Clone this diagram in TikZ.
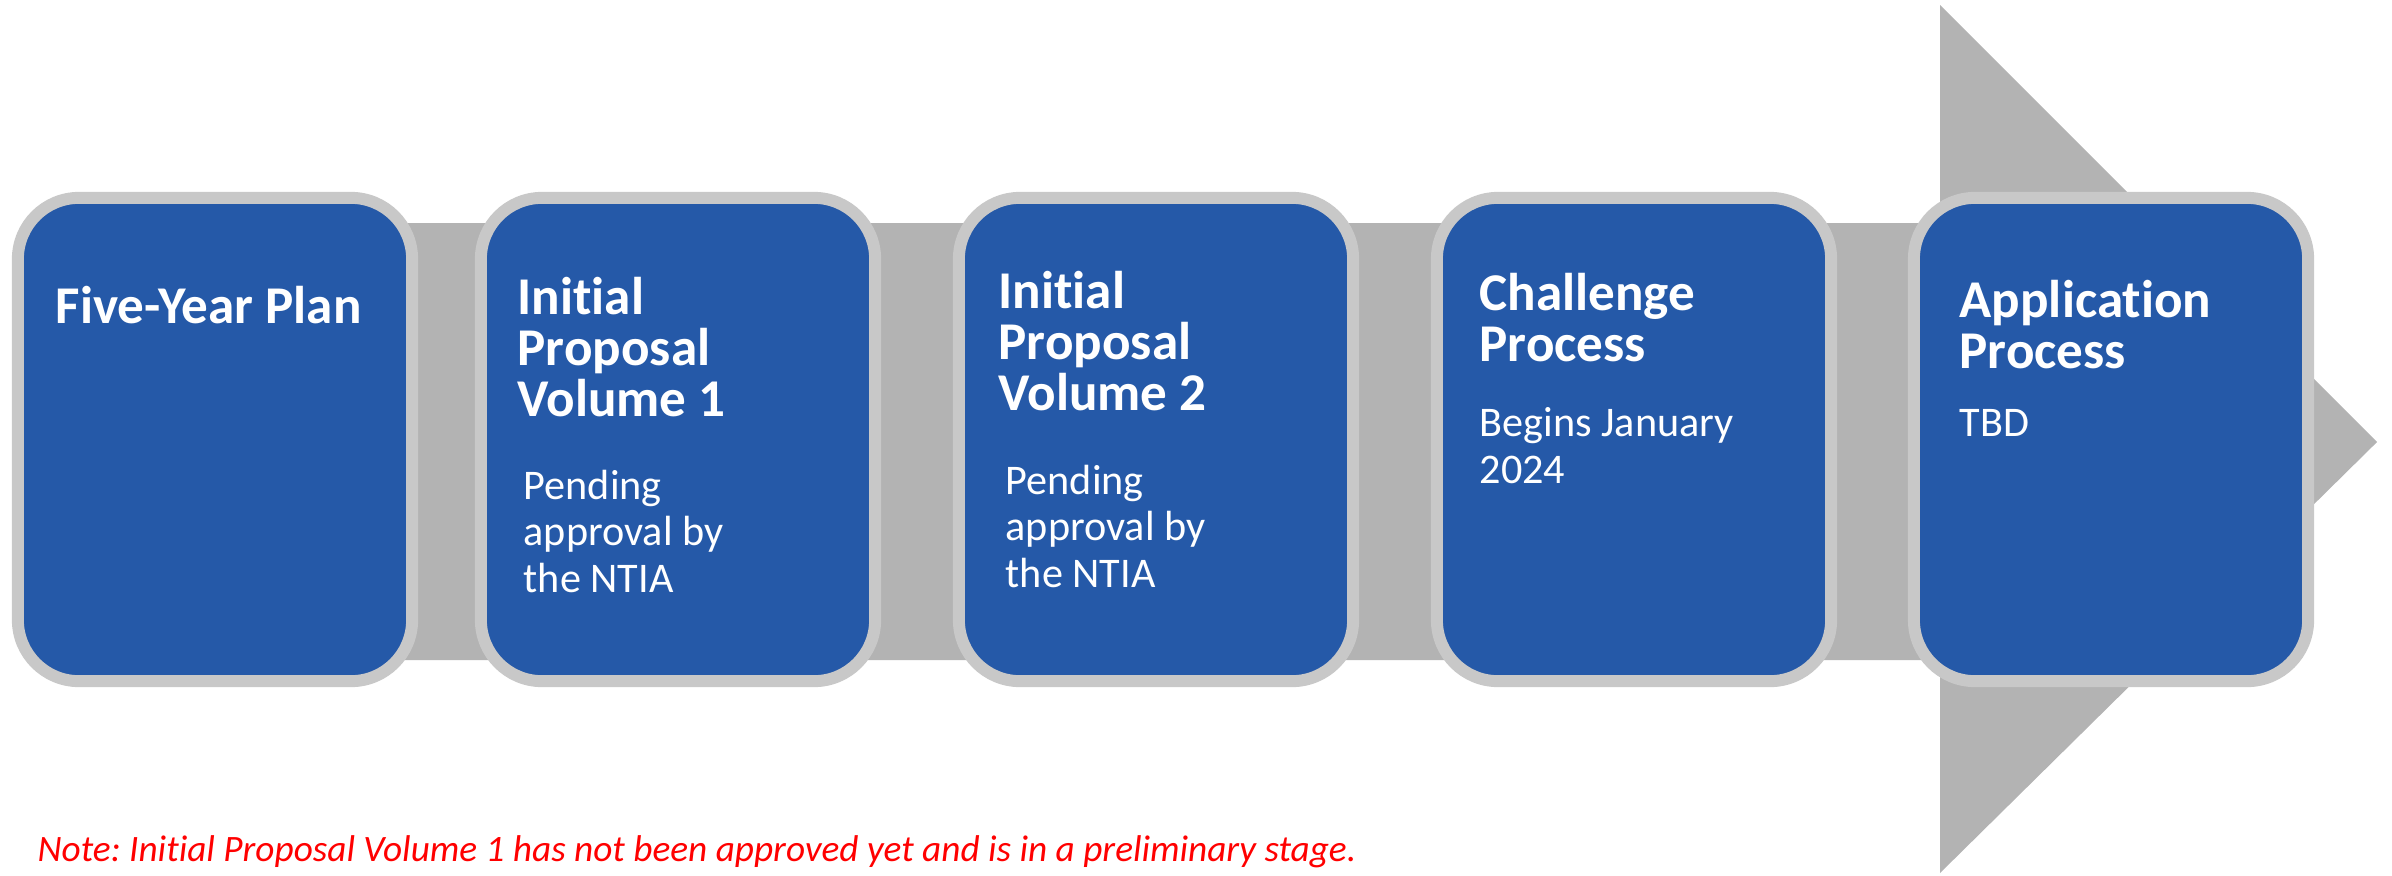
\documentclass[tikz,border=0pt]{standalone}
\usepackage{fontspec}
\setmainfont{Carlito}[Ligatures=NoCommon]
\usetikzlibrary{positioning}
\definecolor{stageblue}{HTML}{2559A8}
\definecolor{rimgray}{HTML}{C8C8C8}
\definecolor{bandgray}{HTML}{B3B3B3}
\frenchspacing

\begin{document}
\begin{tikzpicture}[
    x=0.01cm, y=-0.01cm,
    stage/.style={draw=rimgray, fill=stageblue, line width=3.4pt,
                  rounded corners=0.61cm, minimum width=3.94cm,
                  minimum height=4.83cm, inner sep=0pt},
    % anchor sits on the baseline of the last line
    head/.style={anchor=base west, inner sep=0pt, align=left, text=white,
                 font=\fontsize{15.1}{14.5}\selectfont\bfseries},
    body/.style={anchor=base west, inner sep=0pt, align=left, text=white,
                 font=\fontsize{12}{13.2}\selectfont},
    note/.style={anchor=base west, inner sep=0pt, text=red,
                 font=\fontsize{10.6}{12}\selectfont\itshape},
  ]
  \useasboundingbox (0,0) rectangle (2392,875);

  %% ---- the big arrow behind the stages -------------------------------
  \coordinate (tip) at (2377,442);
  \fill[bandgray] (200,223) -- (1940,223) -- (1940,5) -- (tip)
                  -- (1940,873) -- (1940,660) -- (200,660) -- cycle;

  %% ---- stages --------------------------------------------------------
  \node[stage] (plan) at ( 215,439.5) {};
  \node[stage] (ipa)  at ( 678,439.5) {};
  \node[stage] (ipb)  at (1156,439.5) {};
  \node[stage] (chal) at (1634,439.5) {};
  \node[stage] (app)  at (2111,439.5) {};

  %% ---- stage texts ---------------------------------------------------
  \node[head] (planH) at (  55,323) {Five-Year Plan};
  \node[head] (ipaH)  at ( 517,416) {Initial\\Proposal\\Volume 1};
  \node[body] (ipaB)  at ( 523,592) {Pending\\approval by\\the NTIA};
  \node[head] (ipbH)  at ( 998,410) {Initial\\Proposal\\Volume 2};
  \node[body] (ipbB)  at (1005,587) {Pending\\approval by\\the NTIA};
  \node[head] (chalH) at (1479,361) {Challenge\\Process};
  \node[body] (chalB) at (1479,483) {Begins January\\2024};
  \node[head] (appH)  at (1959,368) {Application\\Process};
  \node[body] (appB)  at (1959,436) {TBD};

  %% ---- footnote ------------------------------------------------------
  \node[note] (note) at (37,861)
    {Note: Initial Proposal Volume 1 has not been approved yet and is in a preliminary stage.};

\end{tikzpicture}
\end{document}
